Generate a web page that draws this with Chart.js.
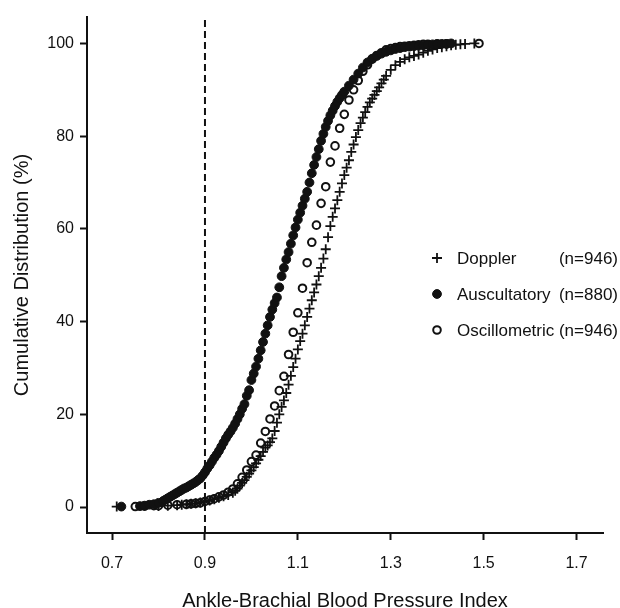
<!DOCTYPE html>
<html>
<head>
<meta charset="utf-8">
<script src="https://cdn.jsdelivr.net/npm/chart.js@4"></script>
<style>
  html, body { margin: 0; padding: 0; background: #fff; }
  #wrap { width: 620px; height: 608px; }
</style>
</head>
<body>
<div id="wrap"><canvas id="abiChart" width="620" height="608"></canvas></div>
<script>
// Series names and sample sizes (legend)
const seriesNames = ['Doppler', 'Auscultatory', 'Oscillometric'];
const seriesCounts = ['(n=946)', '(n=880)', '(n=946)'];

// Axis ticks
const xTicks = [0.7, 0.9, 1.1, 1.3, 1.5, 1.7];
const yTicks = [0, 20, 40, 60, 80, 100];
const xRange = [0.646, 1.757];
const yRange = [-5.6, 105.7];

// ABI cut-off (dashed line)
const cutoffAbi = [0.9];

// Doppler: ABI value and cumulative %
const dopplerAbi = [0.71, 0.80, 0.82, 0.84, 0.85, 0.86, 0.87, 0.88, 0.89, 0.90, 0.91, 0.92, 0.93, 0.94,
  0.95, 0.96, 0.965, 0.97, 0.975, 0.98, 0.985, 0.99, 0.995, 1.00, 1.005, 1.01, 1.015, 1.02, 1.025, 1.03,
  1.035, 1.04, 1.045, 1.05, 1.055, 1.06, 1.065, 1.07, 1.075, 1.08, 1.085, 1.09, 1.095, 1.10, 1.105, 1.11,
  1.115, 1.12, 1.125, 1.13, 1.135, 1.14, 1.145, 1.15, 1.155, 1.16, 1.165, 1.17, 1.175, 1.18, 1.185, 1.19,
  1.195, 1.20, 1.205, 1.21, 1.215, 1.22, 1.225, 1.23, 1.235, 1.24, 1.245, 1.25, 1.255, 1.26, 1.265, 1.27,
  1.275, 1.28, 1.285, 1.29, 1.30, 1.31, 1.32, 1.33, 1.34, 1.35, 1.36, 1.37, 1.38, 1.39, 1.40, 1.41, 1.42,
  1.43, 1.44, 1.45, 1.46, 1.48];
const dopplerPct = [0.1, 0.2, 0.3, 0.4, 0.5, 0.6, 0.7, 0.8, 1.0, 1.2, 1.4, 1.7, 2.0, 2.3,
  2.6, 3.1, 3.5, 4.0, 4.6, 5.2, 5.8, 6.5, 7.2, 7.9, 8.6, 9.4, 10.2, 11.0, 11.9, 12.8,
  13.3, 14.0, 14.8, 16.4, 18.2, 20.0, 21.6, 23.0, 24.6, 26.4, 28.3, 30.2, 32.0, 34.0, 35.8, 37.4,
  39.2, 41.0, 42.8, 44.6, 46.3, 48.0, 49.8, 51.6, 53.6, 55.6, 58.2, 60.6, 62.6, 64.4, 66.2, 68.0,
  69.8, 71.6, 73.2, 74.8, 76.6, 78.2, 79.8, 81.3, 82.8, 84.0, 85.2, 86.3, 87.3, 88.1, 88.9, 89.7,
  90.5, 91.4, 92.2, 93.0, 94.3, 95.3, 96.0, 96.6, 97.0, 97.3, 97.6, 98.0, 98.4, 98.7, 99.0, 99.2, 99.4,
  99.6, 99.7, 99.8, 99.9, 100];

// Auscultatory: ABI value and cumulative %
const auscAbi = [0.72, 0.76, 0.77, 0.78, 0.79, 0.80, 0.81, 0.815, 0.82, 0.825, 0.83, 0.835, 0.84, 0.845,
  0.85, 0.855, 0.86, 0.865, 0.87, 0.875, 0.88, 0.885, 0.89, 0.895, 0.90, 0.905, 0.91, 0.915, 0.92, 0.925,
  0.93, 0.935, 0.94, 0.945, 0.95, 0.955, 0.96, 0.965, 0.97, 0.975, 0.98, 0.985, 0.99, 0.995, 1.00, 1.005,
  1.01, 1.015, 1.02, 1.025, 1.03, 1.035, 1.04, 1.045, 1.05, 1.055, 1.06, 1.065, 1.07, 1.075, 1.08, 1.085,
  1.09, 1.095, 1.10, 1.105, 1.11, 1.115, 1.12, 1.125, 1.13, 1.135, 1.14, 1.145, 1.15, 1.155, 1.16, 1.165,
  1.17, 1.175, 1.18, 1.185, 1.19, 1.195, 1.20, 1.21, 1.22, 1.23, 1.24, 1.25, 1.26, 1.27, 1.28, 1.29, 1.30,
  1.31, 1.32, 1.33, 1.34, 1.35, 1.36, 1.37, 1.38, 1.39, 1.40, 1.41, 1.42, 1.43];
const auscPct = [0.1, 0.2, 0.3, 0.5, 0.6, 0.9, 1.3, 1.6, 1.9, 2.2, 2.5, 2.8, 3.1, 3.4,
  3.7, 4.0, 4.2, 4.5, 4.8, 5.1, 5.4, 5.8, 6.2, 6.8, 7.5, 8.3, 9.0, 9.8, 10.6, 11.3,
  12.1, 13.0, 13.9, 14.8, 15.6, 16.3, 17.1, 18.0, 19.0, 20.0, 21.2, 22.2, 24.0, 25.2, 27.4, 28.8,
  30.3, 32.0, 33.8, 35.6, 37.4, 39.2, 41.0, 42.6, 44.0, 45.2, 47.4, 49.8, 51.6, 53.4, 55.0, 56.8,
  58.6, 60.3, 62.0, 63.5, 65.0, 66.5, 68.0, 70.0, 72.0, 73.8, 75.5, 77.2, 79.0, 80.5, 82.0, 83.3,
  84.5, 85.5, 86.5, 87.4, 88.2, 88.9, 89.6, 90.9, 92.2, 93.5, 94.8, 95.9, 96.7, 97.3, 97.8, 98.2, 98.5,
  98.8, 99.0, 99.2, 99.3, 99.4, 99.5, 99.6, 99.7, 99.8, 99.8, 99.9, 99.9, 100];

// Oscillometric: ABI value and cumulative %
const oscAbi = [0.75, 0.77, 0.79, 0.80, 0.82, 0.84, 0.86, 0.87, 0.88, 0.89, 0.90, 0.91, 0.92, 0.93,
  0.94, 0.95, 0.96, 0.97, 0.98, 0.99, 1.00, 1.01, 1.02, 1.03, 1.04, 1.05, 1.06, 1.07, 1.08, 1.09,
  1.10, 1.11, 1.12, 1.13, 1.14, 1.15, 1.16, 1.17, 1.18, 1.19, 1.20, 1.21, 1.22, 1.23, 1.24, 1.25,
  1.26, 1.27, 1.28, 1.29, 1.30, 1.31, 1.32, 1.33, 1.34, 1.35, 1.36, 1.37, 1.38, 1.40, 1.42, 1.49];
const oscPct = [0.1, 0.2, 0.3, 0.3, 0.4, 0.5, 0.6, 0.7, 0.8, 0.9, 1.2, 1.5, 1.8, 2.2,
  2.6, 3.2, 3.9, 5.0, 6.4, 8.0, 9.8, 11.2, 13.8, 16.3, 19.0, 21.8, 25.1, 28.2, 32.9, 37.7,
  41.9, 47.2, 52.7, 57.1, 60.8, 65.5, 69.1, 74.4, 77.9, 81.7, 84.7, 87.8, 90.0, 92.0, 94.0, 95.4,
  96.6, 97.4, 98.0, 98.6, 98.9, 99.1, 99.3, 99.4, 99.5, 99.6, 99.7, 99.8, 99.8, 99.9, 99.9, 100];

document.addEventListener('DOMContentLoaded', () => {
    Chart.defaults.font.family = "'Liberation Sans', Arial, sans-serif";
    Chart.defaults.color = '#111';

    const toPoints = (xs, ys) => xs.map((x, i) => ({ x: x, y: ys[i] }));

    const dopplerStyle = { pointStyle: 'cross', radius: 5, borderWidth: 1.8, borderColor: '#111', backgroundColor: '#111' };
    const auscStyle = { pointStyle: 'circle', radius: 4.4, borderWidth: 1, borderColor: '#111', backgroundColor: '#111' };
    const oscStyle = { pointStyle: 'circle', radius: 3.8, borderWidth: 2, borderColor: '#111', backgroundColor: 'rgba(0,0,0,0)' };
    const legendStyles = [dopplerStyle, auscStyle, oscStyle];

    // Legend drawn inside the plot, right side
    const sideLegend = {
        id: 'sideLegend',
        afterDraw(chart) {
            const ctx = chart.ctx;
            const markerX = 437;
            ctx.save();
            ctx.font = "17px 'Liberation Sans', Arial, sans-serif";
            ctx.textBaseline = 'middle';
            seriesNames.forEach((name, i) => {
                const y = 258 + i * 36;
                const st = legendStyles[i];
                ctx.fillStyle = st.backgroundColor;
                ctx.strokeStyle = st.borderColor;
                ctx.lineWidth = st.borderWidth;
                ctx.beginPath();
                if (st.pointStyle === 'cross') {
                    ctx.moveTo(markerX - st.radius, y); ctx.lineTo(markerX + st.radius, y);
                    ctx.moveTo(markerX, y - st.radius); ctx.lineTo(markerX, y + st.radius);
                    ctx.stroke();
                } else {
                    ctx.arc(markerX, y, st.radius, 0, Math.PI * 2);
                    ctx.fill();
                    ctx.stroke();
                }
                ctx.fillStyle = '#111';
                ctx.textAlign = 'left';
                ctx.fillText(name, 457, y + 1);
                ctx.textAlign = 'right';
                ctx.fillText(seriesCounts[i], 618, y + 1);
            });
            ctx.restore();
        }
    };

    const ctx = document.getElementById('abiChart').getContext('2d');
    new Chart(ctx, {
        type: 'scatter',
        data: {
            datasets: [
                {
                    type: 'line',
                    label: 'cutoff',
                    data: [{ x: cutoffAbi[0], y: yRange[0] }, { x: cutoffAbi[0], y: yRange[1] }],
                    borderColor: '#111',
                    borderWidth: 2,
                    borderDash: [7, 4],
                    pointRadius: 0,
                    order: 4
                },
                {
                    label: seriesNames[2],
                    data: toPoints(oscAbi, oscPct),
                    pointStyle: oscStyle.pointStyle,
                    pointRadius: oscStyle.radius,
                    pointBorderWidth: oscStyle.borderWidth,
                    pointBorderColor: oscStyle.borderColor,
                    pointBackgroundColor: oscStyle.backgroundColor,
                    order: 3
                },
                {
                    label: seriesNames[0],
                    data: toPoints(dopplerAbi, dopplerPct),
                    pointStyle: dopplerStyle.pointStyle,
                    pointRadius: dopplerStyle.radius,
                    pointBorderWidth: dopplerStyle.borderWidth,
                    pointBorderColor: dopplerStyle.borderColor,
                    pointBackgroundColor: dopplerStyle.backgroundColor,
                    order: 2
                },
                {
                    label: seriesNames[1],
                    data: toPoints(auscAbi, auscPct),
                    pointStyle: auscStyle.pointStyle,
                    pointRadius: auscStyle.radius,
                    pointBorderWidth: auscStyle.borderWidth,
                    pointBorderColor: auscStyle.borderColor,
                    pointBackgroundColor: auscStyle.backgroundColor,
                    order: 1
                }
            ]
        },
        options: {
            responsive: false,
            animation: false,
            layout: { padding: { left: 10, right: 17, top: 17, bottom: 0 } },
            plugins: {
                legend: { display: false },
                tooltip: { enabled: false }
            },
            scales: {
                x: {
                    type: 'linear',
                    min: xRange[0],
                    max: xRange[1],
                    afterBuildTicks: (scale) => { scale.ticks = xTicks.map(v => ({ value: v })); },
                    afterFit: (scale) => { scale.height = 75; },
                    grid: { drawOnChartArea: false, drawTicks: true, tickLength: 7, tickWidth: 2, color: '#111' },
                    border: { display: true, color: '#111', width: 2 },
                    ticks: {
                        font: { size: 16 },
                        padding: 14,
                        maxRotation: 0,
                        callback: (v) => v.toFixed(1)
                    },
                    title: {
                        display: true,
                        text: 'Ankle-Brachial Blood Pressure Index',
                        font: { size: 20, lineHeight: 0.7 },
                        padding: 0
                    }
                },
                y: {
                    type: 'linear',
                    min: yRange[0],
                    max: yRange[1],
                    afterBuildTicks: (scale) => { scale.ticks = yTicks.map(v => ({ value: v })); },
                    afterFit: (scale) => { scale.width = 77; },
                    grid: { drawOnChartArea: false, drawTicks: true, tickLength: 7, tickWidth: 2, color: '#111' },
                    border: { display: true, color: '#111', width: 2 },
                    ticks: {
                        font: { size: 16 },
                        padding: 6
                    },
                    title: {
                        display: true,
                        text: 'Cumulative Distribution (%)',
                        font: { size: 20 },
                        padding: 0
                    }
                }
            }
        },
        plugins: [sideLegend]
    });
});
</script>
</body>
</html>
